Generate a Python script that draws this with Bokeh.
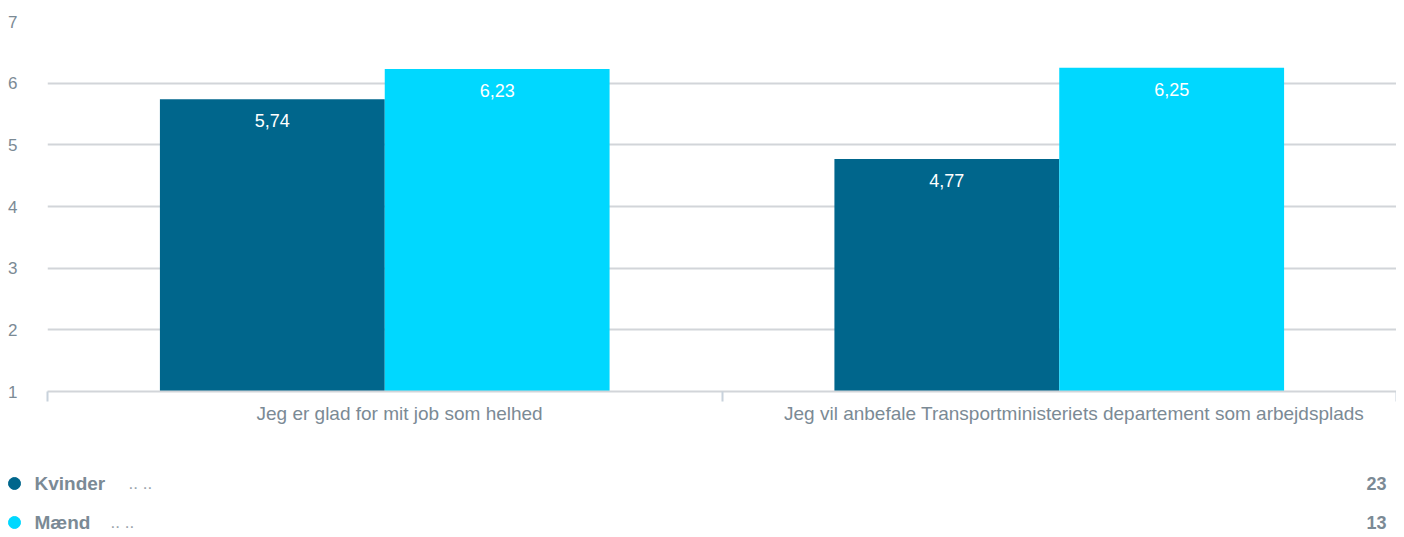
from bokeh.plotting import figure
from bokeh.models import ColumnDataSource, FixedTicker, Range1d
from bokeh.layouts import column, row
from bokeh.transform import dodge
from bokeh.core.properties import value
from bokeh.embed import file_html
from bokeh.resources import INLINE

categories = ["Jeg er glad for mit job som helhed",
              "Jeg vil anbefale Transportministeriets departement som arbejdsplads"]
kvinder = [5.74, 4.77]
maend = [6.23, 6.25]
series_names = ["Kvinder", "Mænd"]
series_counts = [23, 13]
y_ticks = [1, 2, 3, 4, 5, 6, 7]

DARK = "#00668c"
LIGHT = "#00d8ff"
GRAY_TXT = "#7b8a95"
GRID = "#d2d5d9"
FONT = "Liberation Sans"

W = 1396
LEFT = 47
TOP = 21
FRAME_H = 370
H_MAIN = 441
H_LEG = 96

xc = [i + 0.5 for i in range(len(categories))]
label_ticks = [x + 0.022 for x in xc]
fmt = lambda v: f"{v:.2f}".replace(".", ",")
src = ColumnDataSource(dict(
    x=xc, k=kvinder, m=maend,
    kl=[fmt(v) for v in kvinder], ml=[fmt(v) for v in maend],
))

p = figure(width=W, frame_height=FRAME_H, output_backend="svg", toolbar_location=None,
           x_range=Range1d(0, len(categories)), y_range=Range1d(1, 7),
           min_border_left=LEFT, min_border_right=0, min_border_top=TOP,
           min_border_bottom=H_MAIN - TOP - FRAME_H)
p.outline_line_color = None
p.background_fill_color = "white"
p.border_fill_color = "white"

bw = 1 / 3
p.vbar(x=dodge("x", -bw / 2, range=p.x_range), top="k", bottom=1, width=bw, source=src,
       fill_color=DARK, line_color=None)
p.vbar(x=dodge("x", bw / 2, range=p.x_range), top="m", bottom=1, width=bw, source=src,
       fill_color=LIGHT, line_color=None)

for col, lab, off in (("k", "kl", -bw / 2), ("m", "ml", bw / 2)):
    p.text(x=dodge("x", off, range=p.x_range), y=col, text=lab, source=src,
           text_color="white", text_align="center", text_baseline="top",
           y_offset=15, text_font=value(FONT), text_font_size="18px")

# y axis
p.yaxis.ticker = FixedTicker(ticks=y_ticks)
p.yaxis.axis_line_color = None
p.yaxis.major_tick_line_color = None
p.yaxis.major_tick_out = 0
p.yaxis.major_tick_in = 0
p.yaxis.minor_tick_line_color = None
p.yaxis.minor_tick_out = 0
p.yaxis.major_label_standoff = 30
p.yaxis.major_label_text_color = GRAY_TXT
p.yaxis.major_label_text_font = FONT
p.yaxis.major_label_text_font_size = "17px"
p.ygrid.ticker = FixedTicker(ticks=y_ticks)
p.ygrid.grid_line_color = GRID
p.ygrid.grid_line_width = 2
p.xgrid.grid_line_color = None

# x axis: labels centred under categories, ticks at category boundaries
p.xaxis.ticker = FixedTicker(ticks=label_ticks, minor_ticks=list(range(len(categories) + 1)))
p.xaxis.major_label_overrides = {x: c for x, c in zip(label_ticks, categories)}
p.xaxis.axis_line_color = GRID
p.xaxis.axis_line_width = 2
p.xaxis.major_tick_line_color = None
p.xaxis.major_tick_out = 0
p.xaxis.major_tick_in = 0
p.xaxis.minor_tick_line_color = "#c8d2dc"
p.xaxis.minor_tick_line_width = 2
p.xaxis.minor_tick_out = 10
p.xaxis.minor_tick_in = 0
p.xaxis.major_label_standoff = 1
p.xaxis.major_label_text_color = GRAY_TXT
p.xaxis.major_label_text_font = FONT
p.xaxis.major_label_text_font_size = "19px"

# legend figure (pixel-mapped ranges)
lg = figure(width=W, height=H_LEG, output_backend="svg", toolbar_location=None,
            x_range=Range1d(0, W), y_range=Range1d(H_LEG, 0),
            x_axis_location=None, y_axis_location=None,
            min_border_left=0, min_border_right=0,
            min_border_top=0, min_border_bottom=0)
lg.grid.grid_line_color = None
lg.outline_line_color = None
lg.background_fill_color = "white"
lg.border_fill_color = "white"

rows = [42, 81]
lsrc = ColumnDataSource(dict(
    name=series_names, cnt=[str(c) for c in series_counts],
    color=[DARK, LIGHT], y=rows,
    cx=[14] * 2, nx=[34] * 2, rx=[1386] * 2,
    dx=[128, 110],
    dots=[".. ..", ".. .."],
))
lg.scatter(x="cx", y="y", size=12, color="color", source=lsrc)
lg.text(x="nx", y="y", text="name", source=lsrc, text_baseline="middle",
        text_color=GRAY_TXT, text_font=value(FONT), text_font_size="19px",
        text_font_style="bold")
lg.text(x="dx", y="y", text="dots", source=lsrc, text_baseline="middle",
        text_color="#9aa3ab", text_font=value(FONT), text_font_size="17px")
lg.text(x="rx", y="y", text="cnt", source=lsrc, text_baseline="middle", text_align="right",
        text_color=GRAY_TXT, text_font=value(FONT), text_font_size="18px",
        text_font_style="bold")

layout = column(p, row(lg), spacing=0)
open("out.html", "w").write(file_html(layout, INLINE))
